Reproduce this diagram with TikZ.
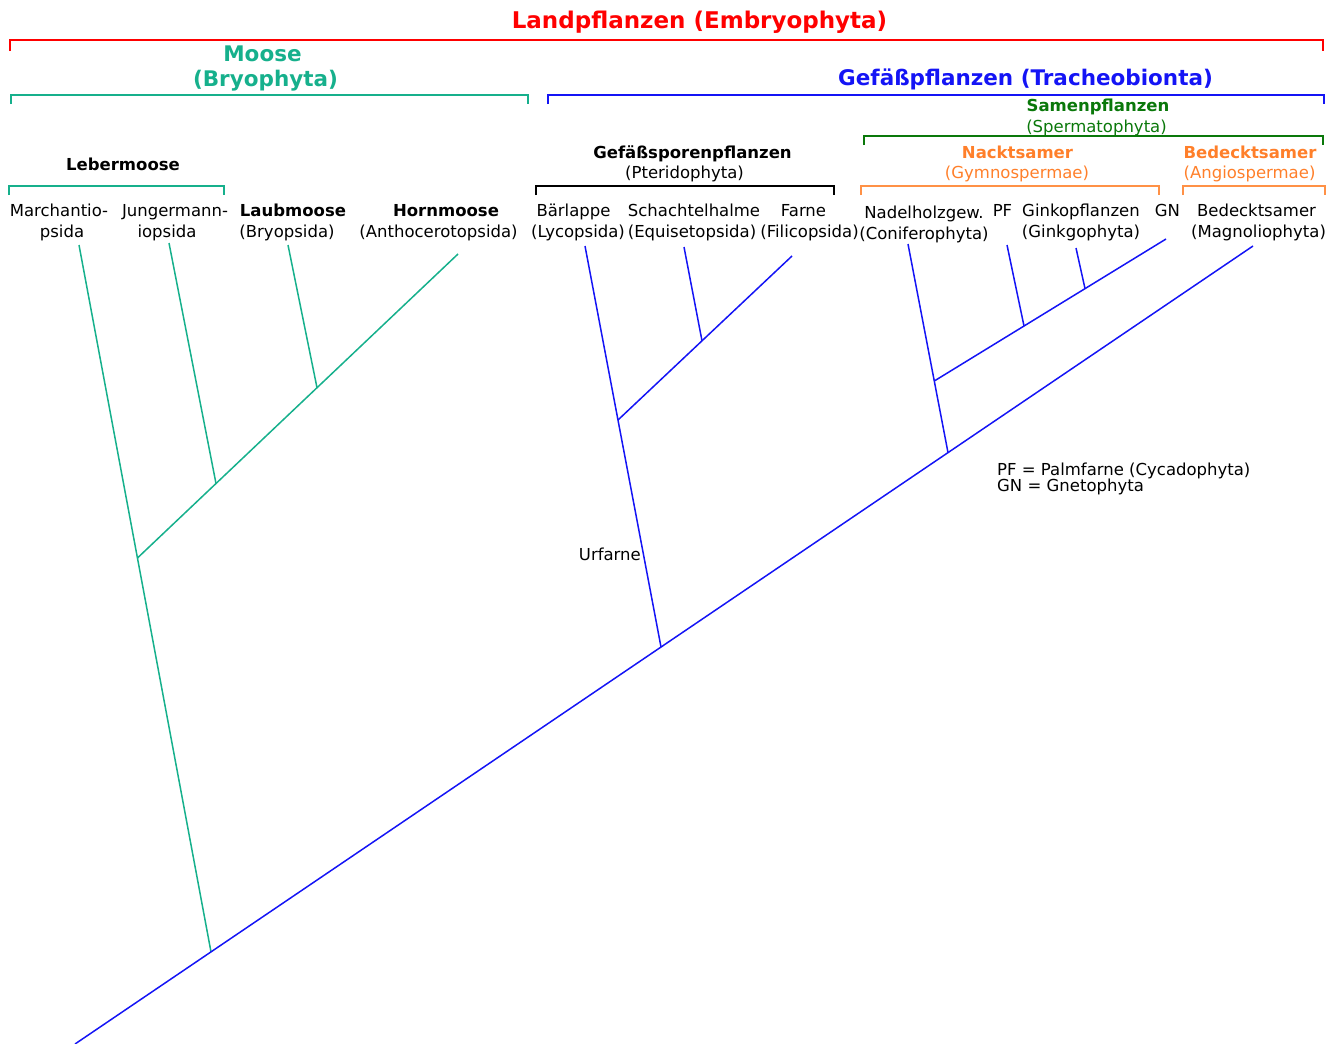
\documentclass[tikz,border=0pt]{standalone}
\usepackage{fontspec}
\setmainfont{DejaVu Sans}
\definecolor{moss}{RGB}{22,176,140}
\definecolor{vasc}{RGB}{20,20,245}
\definecolor{seed}{RGB}{10,120,10}
\definecolor{gymtxt}{RGB}{255,127,42}
\definecolor{gymbr}{RGB}{255,145,70}
\begin{document}
\begin{tikzpicture}[x=1pt,y=-1pt,
  lbl/.style={inner sep=0pt, anchor=base, font=\fontsize{16.5}{20}\selectfont},
  lblb/.style={inner sep=0pt, anchor=base, font=\fontsize{16.5}{20}\selectfont\bfseries},
  big/.style={inner sep=0pt, anchor=base, font=\fontsize{21.5}{26}\selectfont\bfseries},
  huge/.style={inner sep=0pt, anchor=base, font=\fontsize{23}{28}\selectfont\bfseries},
  brk/.style={line width=2pt},
  br/.style={line width=1.5pt}]
\useasboundingbox (0,0) rectangle (1344,1044);

% ---- group headings ----
\node[huge, red] (land) at (699.5,28) {Landpflanzen (Embryophyta)};
\node[big, moss] (moosA) at (262.5,61) {Moose};
\node[big, moss] (moosB) at (265.5,86) {(Bryophyta)};
\node[big, vasc] (gef) at (1025.5,85) {Gefäßpflanzen (Tracheobionta)};
\node[lblb, seed] (samA) at (1098,111) {Samenpflanzen};
\node[lbl, seed] (samB) at (1096.5,132) {(Spermatophyta)};
\node[lblb] (pterA) at (692.5,158) {Gefäßsporenpflanzen};
\node[lbl] (pterB) at (684.5,178) {(Pteridophyta)};
\node[lblb, gymtxt] (nackA) at (1017.5,158) {Nacktsamer};
\node[lbl, gymtxt] (nackB) at (1017,178) {(Gymnospermae)};
\node[lblb, gymtxt] (bedA) at (1250,158) {Bedecktsamer};
\node[lbl, gymtxt] (bedB) at (1249.5,178) {(Angiospermae)};
\node[lblb] (leber) at (123,170) {Lebermoose};

% ---- brackets ----
\draw[brk, red] (10,51) |- (1323,40) -- (1323,51);
\draw[brk, moss] (11,104) |- (528,95) -- (528,104);
\draw[brk, vasc] (548,104) |- (1324,95) -- (1324,104);
\draw[brk, seed] (864,145) |- (1323,136) -- (1323,145);
\draw[brk, black] (536,195) |- (834,186) -- (834,195);
\draw[brk, gymbr] (861,195) |- (1159,186) -- (1159,195);
\draw[brk, gymbr] (1183,195) |- (1325,186) -- (1325,195);
\draw[brk, moss] (9,195) |- (224,186) -- (224,195);

% ---- leaf labels ----
\node[lbl] (marA) at (59,216) {Marchantio-};
\node[lbl] (marB) at (62,237) {psida};
\node[lbl] (junA) at (175,216) {Jungermann-};
\node[lbl] (junB) at (167,237) {iopsida};
\node[lblb] (laubA) at (293,216) {Laubmoose};
\node[lbl] (laubB) at (287,237) {(Bryopsida)};
\node[lblb] (hornA) at (446,216) {Hornmoose};
\node[lbl] (hornB) at (438.5,237) {(Anthocerotopsida)};
\node[lbl] (baerA) at (573.5,216) {Bärlappe};
\node[lbl] (baerB) at (578,237) {(Lycopsida)};
\node[lbl] (schA) at (694,216) {Schachtelhalme};
\node[lbl] (schB) at (692,237) {(Equisetopsida)};
\node[lbl] (farA) at (803.5,216) {Farne};
\node[lbl] (farB) at (809.5,237) {(Filicopsida)};
\node[lbl] (nadA) at (924,218) {Nadelholzgew.};
\node[lbl] (nadB) at (924,239) {(Coniferophyta)};
\node[lbl] (pf) at (1002.5,216) {PF};
\node[lbl] (ginA) at (1081,216) {Ginkopflanzen};
\node[lbl] (ginB) at (1081,237) {(Ginkgophyta)};
\node[lbl] (gn) at (1167.5,216) {GN};
\node[lbl] (magA) at (1256.5,216) {Bedecktsamer};
\node[lbl] (magB) at (1258.5,237) {(Magnoliophyta)};

% ---- footnote ----
\node[lbl, anchor=base west] (noteA) at (997,475) {PF = Palmfarne (Cycadophyta)};
\node[lbl, anchor=base west] (noteB) at (997,491) {GN = Gnetophyta};

% ---- tree: tips ----
\coordinate (tMar) at (79,245);
\coordinate (tJun) at (169,243);
\coordinate (tLaub) at (288,245);
\coordinate (tHorn) at (458,254);
\coordinate (tBaer) at (585,246);
\coordinate (tSch) at (684,247);
\coordinate (tFar) at (792,256);
\coordinate (tNad) at (908,244);
\coordinate (tPF) at (1007,245);
\coordinate (tGin) at (1076,248);
\coordinate (tGN) at (1166,239);
\coordinate (tMag) at (1253,246);
% ---- tree: inner nodes ----
\coordinate (root) at (75,1044);
\coordinate (jLand) at (211,951.9);
\coordinate (jVasc) at (661,647.0);
\coordinate (jSeed) at (948,452.6);
\coordinate (jMoss) at (137.45,558);
\coordinate (jJun) at (216,483.5);
\coordinate (jLaub) at (317,387.7);
\coordinate (jFern) at (617.98,420);
\coordinate (jSch) at (702,340.8);
\coordinate (jGym) at (934.27,381);
\coordinate (jPF) at (1024,326.0);
\coordinate (jGin) at (1085,288.6);

% mosses
\draw[br, moss] (tMar) -- (jLand);
\draw[br, moss] (tHorn) -- (jMoss);
\draw[br, moss] (tJun) -- (jJun);
\draw[br, moss] (tLaub) -- (jLaub);
% vascular plants
\draw[br, vasc] (root) -- (tMag);
\draw[br, vasc] (tBaer) -- (jVasc);
\draw[br, vasc] (tFar) -- (jFern);
\draw[br, vasc] (tSch) -- (jSch);
\draw[br, vasc] (tNad) -- (jSeed);
\draw[br, vasc] (tGN) -- (jGym);
\draw[br, vasc] (tPF) -- (jPF);
\draw[br, vasc] (tGin) -- (jGin);

\node[lbl, anchor=base east] (urf) at (641,560) {Urfarne};
\end{tikzpicture}
\end{document}
